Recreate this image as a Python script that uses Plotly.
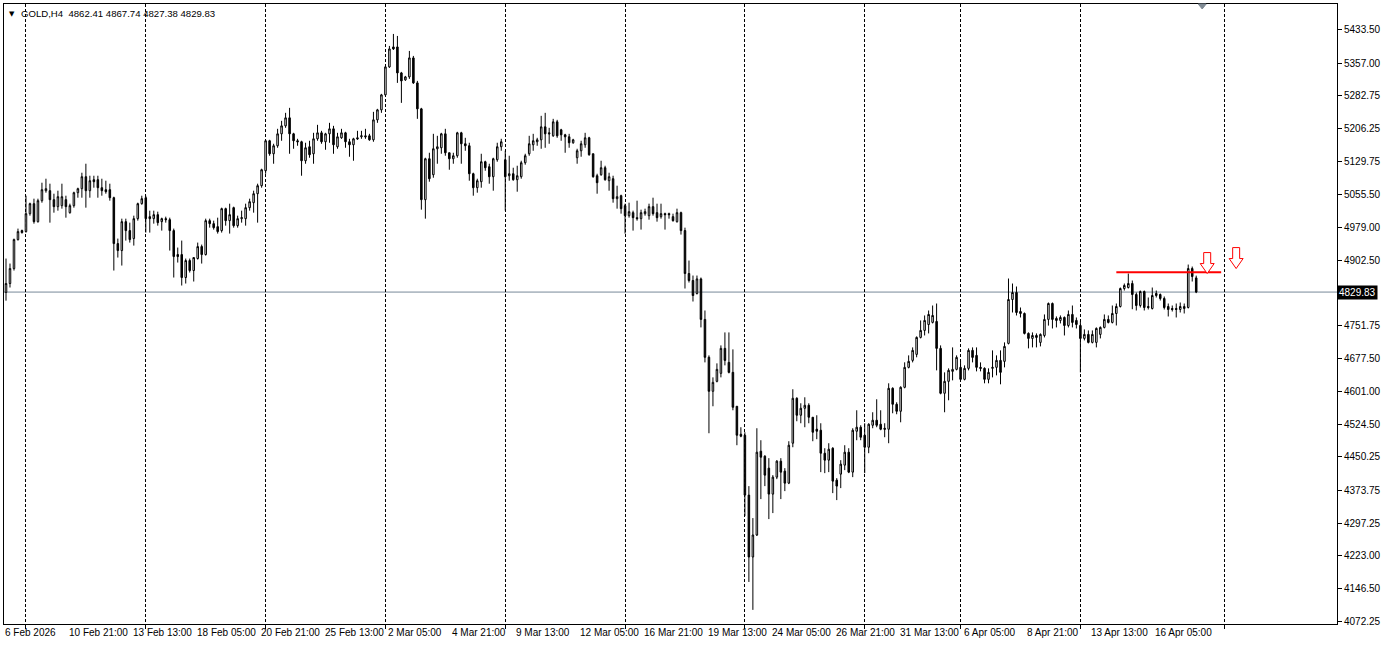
import plotly.graph_objects as go

# ---------------- data (GOLD, H4) ----------------
opens = [
4829, 4849.5, 4884, 4950.7, 4971.4, 4969.1, 5010.4, 5033.4, 4992, 5040.3,
5063.3, 5063.3, 5042.6, 5026.5, 5028.8, 5042.6, 5012.7, 5028.8, 5058.7, 5067.9,
5095.5, 5063.3, 5088.6, 5088.6, 5070.2, 5065.6, 5065.6, 5047.2, 4941.5, 4925.4,
4992, 4971.4, 4953, 4998.9, 5033.4, 5047.2, 5003.5, 4998.9, 5008.1, 4992,
4998.9, 4996.6, 4971.4, 4916.2, 4916.2, 4863.3, 4902.4, 4879.4, 4907, 4934.6,
4916.2, 4994.3, 4987.4, 4980.5, 4971.4, 5021.9, 4994.3, 5024.2, 4982.8, 4998.9,
4998.9, 5024.2, 5035.7, 5056.4, 5074.8, 5109.3, 5178.3, 5148.4, 5166.8, 5194.3,
5212.7, 5231.1, 5194.3, 5178.3, 5176, 5132.3, 5164.5, 5148.4, 5182.8, 5196.6,
5176, 5194.3, 5205.8, 5164.5, 5185.1, 5196.6, 5176, 5169.1, 5185.1, 5187.4,
5189.7, 5189.7, 5180.5, 5226.5, 5249.5, 5284, 5348.4, 5394.4, 5394.4, 5334.6,
5318.5, 5325.4, 5369.1, 5311.6, 5251.8, 5042.6, 5136.9, 5100.1, 5159.9, 5162.2,
5194.3, 5150.7, 5136.9, 5143.8, 5196.6, 5171.4, 5166.8, 5102.4, 5070.2, 5084,
5130, 5118.5, 5095.5, 5134.6, 5164.5, 5134.6, 5097.8, 5102.4, 5088.6, 5095.5,
5127.7, 5148.4, 5169.1, 5176, 5180.5, 5210.4, 5196.6, 5189.7, 5221.9, 5203.5,
5192, 5187.4, 5173.7, 5139.2, 5155.3, 5169.1, 5185.1, 5148.4, 5097.8, 5100.1,
5116.2, 5086.3, 5090.9, 5044.9, 5051.8, 5028.8, 5005.8, 5012.7, 5001.2, 4998.9,
5010.4, 5005.8, 5026.5, 5012.7, 5003.5, 5010.4, 5010.4, 5003.5, 4992, 5012.7,
4971.4, 4872.5, 4856.4, 4826.5, 4860.1, 4766.8, 4679.6, 4601.3, 4624.2, 4642.6,
4700.1, 4667.9, 4644.9, 4566.8, 4502.4, 4500.1, 4362.2, 4219.7, 4270.3, 4463.3,
4451.8, 4424.3, 4364.5, 4403.6, 4440.4, 4417.4, 4389.8, 4481.7, 4585.2, 4546.1,
4562.2, 4569.1, 4541.5, 4514, 4511.6, 4458.7, 4442.7, 4470.2, 4396.7, 4410.5,
4431.2, 4461, 4415.1, 4509.3, 4518.5, 4500.1, 4472.5, 4523.1, 4534.6, 4525.4,
4516.2, 4513.9, 4608.2, 4571.4, 4555.3, 4610.5, 4656.4, 4672.5, 4686.3, 4725.4,
4741.5, 4755, 4760, 4762.2, 4700.1, 4596.7, 4624.2, 4647.2, 4651.8, 4656.4,
4628.8, 4654.1, 4695.5, 4684, 4656.4, 4654.1, 4628.8, 4654.1, 4656.4, 4672.5,
4670.2, 4711.6, 4812.7, 4828.8, 4785.1, 4780.5, 4734.6, 4723.1, 4729.9, 4713.9,
4729.9, 4766.8, 4803.5, 4769.1, 4764.5, 4771.3, 4752.9, 4778.3, 4764.5, 4752.9,
4723.1, 4732.3, 4713.9, 4713.9, 4732.3, 4748.4, 4766.8, 4759.9, 4780.5, 4796.6,
4838, 4840.3, 4849.5, 4824.2, 4798.9, 4831.1, 4796.6, 4792, 4826.5, 4824.2,
4815, 4796.6, 4792, 4792, 4789.7, 4792, 4794.3, 4884, 4862.41,
]
highs = [
4907, 4895.5, 4953, 4976, 4973.7, 5051.8, 5035.7, 5044.9, 5044.9, 5081.7,
5090.9, 5079.4, 5056.4, 5063.3, 5079.4, 5051.8, 5033.4, 5061, 5070.2, 5104.7,
5125.4, 5097.8, 5097.8, 5097.8, 5090.9, 5086.3, 5079.4, 5049.5, 4953, 4998.9,
4998.9, 4989.7, 5005.8, 5035.7, 5051.8, 5051.8, 5017.3, 5017.3, 5015, 5001.2,
5003.5, 5001.2, 4976, 4932.3, 4948.4, 4907, 4907, 4909.3, 4943.8, 4939.2,
4998.9, 4998.9, 4994.3, 5001.2, 5024.2, 5024.2, 5033.4, 5026.5, 5005.8, 5017.3,
5033.4, 5044.9, 5063.3, 5079.4, 5113.9, 5180.5, 5180.5, 5171.4, 5205.8, 5224.2,
5242.6, 5254.1, 5196.6, 5182.8, 5178.3, 5173.7, 5178.3, 5196.6, 5215, 5201.2,
5196.6, 5219.6, 5212.7, 5196.6, 5205.8, 5198.9, 5182.8, 5185.1, 5201.2, 5201.2,
5205.8, 5194.3, 5244.9, 5251.8, 5286.3, 5350.7, 5396.7, 5424.3, 5419.7, 5336.9,
5327.7, 5385.2, 5373.7, 5316.2, 5254.1, 5139.2, 5150.7, 5194.3, 5189.7, 5196.6,
5205.8, 5150.7, 5150.7, 5198.9, 5198.9, 5185.1, 5173.7, 5104.7, 5090.9, 5148.4,
5132.3, 5125.4, 5139.2, 5173.7, 5182.8, 5155.3, 5143.8, 5116.2, 5120.8, 5132.3,
5148.4, 5189.7, 5194.3, 5185.1, 5235.7, 5242.6, 5208.1, 5228.8, 5226.5, 5205.8,
5194.3, 5194.3, 5182.8, 5159.9, 5178.3, 5196.6, 5187.4, 5148.4, 5102.4, 5132.3,
5120.8, 5104.7, 5097.8, 5074.8, 5054.1, 5033.4, 5035.7, 5017.3, 5040.3, 5019.6,
5021.9, 5033.4, 5047.2, 5033.4, 5033.4, 5012.7, 5012.7, 5010.4, 5021.9, 5015,
4978.2, 4902.4, 4867.9, 4867.9, 4863.3, 4787.4, 4684, 4633.4, 4665.6, 4707,
4736.9, 4736.9, 4697.8, 4566.8, 4518.5, 4507, 4382.9, 4309.3, 4516.2, 4488.6,
4454.1, 4447.3, 4408.2, 4442.7, 4447.3, 4424.3, 4486.3, 4606, 4587.5, 4573.7,
4587.5, 4573.7, 4541.5, 4546.1, 4527.7, 4470.2, 4481.7, 4472.5, 4401.3, 4442.7,
4477.1, 4470.2, 4516.2, 4557.6, 4523.1, 4527.7, 4527.7, 4553, 4582.9, 4557.6,
4527.7, 4619.7, 4610.5, 4576, 4612.8, 4668, 4684, 4702.4, 4727.7, 4764.5,
4776, 4787.4, 4798.9, 4803.5, 4707, 4644.9, 4654.1, 4702.4, 4684, 4672.5,
4661, 4700.1, 4702.4, 4702.4, 4667.9, 4656.4, 4654.1, 4695.5, 4684, 4695.5,
4713.9, 4861, 4849.5, 4842.6, 4794.3, 4782.8, 4736.9, 4736.9, 4734.6, 4734.6,
4778.3, 4805.8, 4805.8, 4773.7, 4776, 4773.7, 4787.4, 4798.9, 4771.3, 4762.2,
4743.8, 4741.5, 4741.5, 4748.4, 4750.7, 4778.3, 4776, 4798.9, 4803.5, 4840.3,
4849.5, 4872.5, 4856.4, 4828.8, 4833.4, 4833.4, 4817.3, 4840.3, 4833.4, 4826.5,
4819.6, 4803.5, 4798.9, 4803.5, 4805.8, 4803.5, 4893.2, 4888.6, 4867.74,
]
lows = [
4810, 4840.3, 4879.4, 4948.4, 4964.5, 4966.8, 5005.8, 4987.4, 4989.7, 5035.7,
5058.7, 4989.7, 5012.7, 5017.3, 5021.9, 5001.2, 5010.4, 5024.2, 5047.2, 5047.2,
5024.2, 5047.2, 5070.2, 5047.2, 5051.8, 5056.4, 5040.3, 4879.4, 4909.3, 4890.9,
4948.4, 4943.8, 4936.9, 4994.3, 5031.1, 4966.8, 4966.8, 4987.4, 4982.8, 4971.4,
4989.7, 4925.4, 4863.3, 4897.8, 4844.9, 4849.5, 4874.8, 4854.1, 4904.7, 4895.5,
4913.9, 4978.2, 4973.7, 4964.5, 4966.8, 4982.8, 4964.5, 4978.2, 4978.2, 4989.7,
4982.8, 5017.3, 5012.7, 4989.7, 5070.2, 5102.4, 5143.8, 5125.4, 5162.2, 5178.3,
5208.1, 5148.4, 5159.9, 5166.8, 5097.8, 5125.4, 5139.2, 5125.4, 5178.3, 5171.4,
5157.6, 5173.7, 5148.4, 5159.9, 5182.8, 5162.2, 5141.5, 5132.3, 5180.5, 5182.8,
5182.8, 5178.3, 5176, 5219.6, 5242.6, 5281.7, 5346.1, 5387.5, 5311.6, 5265.6,
5316.2, 5320.8, 5309.3, 5228.8, 5019.6, 4998.9, 5084, 5093.2, 5125.4, 5148.4,
5143.8, 5111.6, 5125.4, 5139.2, 5125.4, 5155.3, 5086.3, 5051.8, 5058.7, 5070.2,
5109.3, 5079.4, 5063.3, 5130, 5155.3, 5017.3, 5086.3, 5086.3, 5061, 5090.9,
5123.1, 5143.8, 5155.3, 5166.8, 5159.9, 5162.2, 5171.4, 5187.4, 5185.1, 5178.3,
5150.7, 5162.2, 5171.4, 5125.4, 5141.5, 5162.2, 5143.8, 5093.2, 5056.4, 5097.8,
5086.3, 5063.3, 5035.7, 5021.9, 5010.4, 4964.5, 5001.2, 4971.4, 4994.3, 4973.7,
5005.8, 4996.6, 5005.8, 4992, 4998.9, 4973.7, 4998.9, 4992, 4989.7, 4962.2,
4838, 4851.8, 4808.1, 4824.2, 4748.4, 4667.9, 4504.7, 4566.8, 4621.9, 4633.4,
4661, 4642.6, 4557.6, 4477.1, 4495.5, 4313.9, 4162.2, 4097.9, 4268, 4353,
4382.9, 4307, 4320.8, 4399, 4353, 4371.4, 4387.5, 4472.5, 4532.3, 4527.7,
4518.5, 4527.7, 4486.3, 4491, 4415.1, 4412.8, 4415.1, 4366.8, 4350.7, 4378.3,
4419.7, 4412.8, 4403.6, 4488.6, 4488.6, 4412.8, 4458.7, 4516.2, 4518.5, 4511.6,
4495.5, 4481.7, 4550.7, 4548.4, 4529.9, 4608.2, 4654.1, 4667.9, 4679.6, 4723.1,
4729.9, 4734.6, 4757.6, 4649.5, 4594.4, 4553, 4580.6, 4626.5, 4649.5, 4626.5,
4626.5, 4649.5, 4667.9, 4647.2, 4647.2, 4619.7, 4619.7, 4633.4, 4638, 4617.4,
4656.4, 4709.3, 4782.8, 4775.9, 4771.3, 4732.3, 4700.1, 4702.4, 4702.4, 4704.7,
4725.4, 4752.6, 4746, 4748.4, 4757.6, 4729.9, 4748.4, 4748.4, 4746, 4644.9,
4718.5, 4711.6, 4711.6, 4702.4, 4723.1, 4746.1, 4757.6, 4757.6, 4752.9, 4794.3,
4833.4, 4838, 4790.3, 4787.4, 4794.3, 4787.4, 4789.7, 4789.7, 4817.3, 4810.4,
4789.7, 4773.6, 4785.1, 4771.3, 4782.8, 4780.5, 4792, 4854.1, 4827.38,
]
closes = [
4849.5, 4884, 4950.7, 4969.1, 4966.8, 5010.4, 5033.4, 4992, 5040.3, 5065.6,
5067.9, 5042.6, 5026.5, 5049.5, 5049.5, 5026.5, 5028.8, 5058.7, 5067.9, 5095.5,
5063.3, 5086.3, 5084, 5070.2, 5063.3, 5061, 5047.2, 4941.5, 4925.4, 4992,
4971.4, 4950.7, 4998.9, 5033.4, 5044.9, 4998.9, 4998.9, 5008.1, 4989.7, 4998.9,
4996.6, 4971.4, 4911.6, 4911.6, 4863.3, 4902.4, 4879.4, 4909.3, 4934.6, 4916.2,
4994.3, 4987.4, 4978.2, 4969.1, 5021.9, 4994.3, 5008.1, 4982.8, 4998.9, 5001.2,
5024.2, 5038, 5056.4, 5074.8, 5111.6, 5178.3, 5148.4, 5166.8, 5194.3, 5212.7,
5231.1, 5194.3, 5178.3, 5176, 5132.3, 5162.2, 5146.1, 5182.8, 5196.6, 5176,
5194.3, 5205.8, 5169.1, 5187.4, 5196.6, 5176, 5169.1, 5182.8, 5182.8, 5189.7,
5187.4, 5180.5, 5226.5, 5249.5, 5284, 5348.4, 5389.8, 5389.8, 5334.6, 5316.2,
5325.4, 5369.1, 5311.6, 5251.8, 5042.6, 5136.9, 5090.9, 5159.9, 5164.5, 5194.3,
5150.7, 5136.9, 5143.8, 5196.6, 5171.4, 5166.8, 5102.4, 5070.2, 5086.3, 5130,
5116.2, 5095.5, 5136.9, 5164.5, 5176, 5095.5, 5102.4, 5088.6, 5097.8, 5127.7,
5143.8, 5171.4, 5178.3, 5180.5, 5210.4, 5194.3, 5194.3, 5221.9, 5189.7, 5192,
5187.4, 5173.7, 5180.5, 5155.3, 5171.4, 5185.1, 5146.1, 5095.5, 5081.7, 5116.2,
5088.6, 5095.5, 5044.9, 5049.5, 5021.9, 5005.8, 5015, 5001.2, 4998.9, 5012.7,
5015, 5026.5, 5010.4, 5001.2, 5010.4, 5008.1, 5008.1, 4994.3, 5012.7, 4971.4,
4872.5, 4856.4, 4821.9, 4860.1, 4766.8, 4679.6, 4601.3, 4621.9, 4651.8, 4700.1,
4672.5, 4644.9, 4564.5, 4500.1, 4497.8, 4362.2, 4219.7, 4270.3, 4461, 4449.5,
4408.2, 4364.5, 4403.6, 4440.4, 4415.1, 4389.8, 4477.1, 4585.2, 4546.1, 4562.2,
4569.1, 4541.5, 4507, 4509.3, 4458.7, 4442.7, 4467.9, 4394.4, 4382.9, 4433.5,
4461, 4415.1, 4511.6, 4518.5, 4495.5, 4472.5, 4525.4, 4534.6, 4523.1, 4513.9,
4513.9, 4608.2, 4571.4, 4555.3, 4610.5, 4656.4, 4670.2, 4695.5, 4725.4, 4741.5,
4764.5, 4778.3, 4776, 4700.1, 4596.7, 4624.2, 4649.5, 4651.8, 4679.4, 4628.8,
4654.1, 4695.5, 4679.4, 4656.4, 4654.1, 4628.8, 4644.9, 4656.4, 4672.5, 4644.9,
4704.7, 4812.7, 4828.8, 4782.8, 4780.5, 4734.6, 4723.1, 4729.9, 4725.4, 4732.3,
4766.8, 4803.5, 4766.8, 4764.5, 4771.3, 4752.9, 4778.3, 4759.9, 4755.2, 4723.1,
4732.3, 4713.9, 4732.3, 4746.1, 4748.4, 4766.8, 4759.9, 4780.5, 4796.6, 4838,
4845, 4849.5, 4824.2, 4798.9, 4831.1, 4794.3, 4794.3, 4821.9, 4821.9, 4815,
4794.3, 4789.7, 4789.7, 4789.7, 4796.6, 4796.6, 4884, 4865.6, 4829.83,
]

# time-axis labels (bar index where each label starts)
label_bars = [0, 16, 32, 48, 64, 80, 96, 112, 128, 144, 160, 176, 192, 208, 224, 240, 256, 272, 288]
label_texts = ["6 Feb 2026", "10 Feb 21:00", "13 Feb 13:00", "18 Feb 05:00", "20 Feb 21:00",
               "25 Feb 13:00", "2 Mar 05:00", "4 Mar 21:00", "9 Mar 13:00", "12 Mar 05:00",
               "16 Mar 21:00", "19 Mar 13:00", "24 Mar 05:00", "26 Mar 21:00", "31 Mar 13:00",
               "6 Apr 05:00", "8 Apr 21:00", "13 Apr 13:00", "16 Apr 05:00"]
# week separators (bar index)
week_bars = [5, 35, 65, 95, 125, 155, 185, 215, 239, 269, 305]
# price scale
price_ticks = [5433.50, 5357.00, 5282.75, 5206.25, 5129.75, 5055.50, 4979.00, 4902.50,
               4751.75, 4677.50, 4601.00, 4524.50, 4450.25, 4373.75, 4297.25, 4223.00,
               4146.50, 4072.25]
bid_price = 4829.83
# drawn objects
level_price = 4875.4
level_from_bar, level_to_bar = 278, 304.25
arrow_bars = [300.75, 308.0]
arrow_prices = [4872.5, 4884.0]
shift_marker_bar = 299.5

# ---------------- figure ----------------
W, H = 1384, 647
M = dict(l=3, r=46, t=3, b=23)
x_range = [-0.5, 333.25]
y_range = [4065.35, 5493.28]
plot_w = W - M["l"] - M["r"]
plot_h = H - M["t"] - M["b"]
x_per_px = (x_range[1] - x_range[0]) / plot_w
y_per_px = (y_range[1] - y_range[0]) / plot_h

FONT = "Liberation Sans, Arial, sans-serif"
idx = list(range(len(opens)))

fig = go.Figure()
fig.add_trace(go.Candlestick(
    x=idx, open=opens, high=highs, low=lows, close=closes,
    increasing=dict(line=dict(color="black", width=1), fillcolor="white"),
    decreasing=dict(line=dict(color="black", width=1), fillcolor="black"),
    whiskerwidth=0, showlegend=False, hoverinfo="skip",
))

shapes = []
# bid line
shapes.append(dict(type="line", xref="paper", x0=0, x1=1, yref="y", y0=bid_price, y1=bid_price,
                   line=dict(color="#778899", width=1), layer="below"))
# red resistance level
shapes.append(dict(type="line", xref="x", yref="y", x0=level_from_bar, x1=level_to_bar,
                   y0=level_price, y1=level_price, line=dict(color="#ff0000", width=2)))


def arrow_path(bx, py):
    # hollow down arrow, template in pixels relative to tip (y up)
    tpl = [(0, 0), (-7, 10), (-3.5, 10), (-3.5, 21), (3.5, 21), (3.5, 10), (7, 10)]
    pts = [(bx + dx * x_per_px, py + dy * y_per_px) for dx, dy in tpl]
    return "M " + " L ".join(f"{a:.4f},{b:.3f}" for a, b in pts) + " Z"


for bx, py in zip(arrow_bars, arrow_prices):
    shapes.append(dict(type="path", xref="x", yref="y", path=arrow_path(bx, py),
                       line=dict(color="#ff0000", width=1), fillcolor="white"))

# small shift marker triangle at top
tri = [(-4, 0), (4, 0), (0, -5)]
tri_path = "M " + " L ".join(
    f"{shift_marker_bar + dx * x_per_px:.4f},{1 + dy / plot_h:.5f}" for dx, dy in tri) + " Z"
shapes.append(dict(type="path", xref="x", yref="paper", path=tri_path,
                   line=dict(color="#7f8a94", width=1), fillcolor="#7f8a94"))

annotations = []
for b, t in zip(label_bars, label_texts):
    annotations.append(dict(x=b, xref="x", y=0, yref="paper", text=t, showarrow=False,
                            xanchor="left", yanchor="top", xshift=-3, yshift=-1,
                            font=dict(family=FONT, size=10, color="black")))
annotations.append(dict(x=1, xref="paper", y=bid_price, yref="y", text="4829.83",
                        showarrow=False, xanchor="left", yanchor="middle", xshift=0,
                        bgcolor="black", borderpad=1,
                        font=dict(family=FONT, size=10, color="white")))
annotations.append(dict(x=0, xref="paper", y=1, yref="paper", text="▼", showarrow=False,
                        xanchor="left", yanchor="top", xshift=3, yshift=-4,
                        font=dict(family="DejaVu Sans", size=7, color="black")))
annotations.append(dict(x=0, xref="paper", y=1, yref="paper",
                        text="GOLD,H4  4862.41 4867.74 4827.38 4829.83", showarrow=False,
                        xanchor="left", yanchor="top", xshift=15, yshift=-2,
                        font=dict(family=FONT, size=9.6, color="black")))

fig.update_layout(
    width=W, height=H, margin=M,
    paper_bgcolor="white", plot_bgcolor="white",
    boxgap=0.45, showlegend=False,
    shapes=shapes, annotations=annotations,
    font=dict(family=FONT, size=10, color="black"),
    xaxis=dict(range=x_range, rangeslider=dict(visible=False), tickmode="array",
               tickvals=week_bars, showticklabels=False, ticks="outside", ticklen=4,
               tickcolor="black", showgrid=True, gridcolor="black", gridwidth=1,
               griddash="3px,2px", zeroline=False, showline=True, linecolor="black",
               linewidth=1, mirror=True, fixedrange=True),
    yaxis=dict(range=y_range, side="right", tickmode="array", tickvals=price_ticks,
               ticktext=[f"{v:.2f}" for v in price_ticks], ticks="outside", ticklen=4,
               tickcolor="black", showgrid=False, zeroline=False, showline=True,
               linecolor="black", linewidth=1, mirror=True,
               tickfont=dict(family=FONT, size=10, color="black"), fixedrange=True),
)

fig.write_html("out.html", config={"displayModeBar": False},
               post_script="document.body.style.margin='0px';document.body.style.padding='0px';")
